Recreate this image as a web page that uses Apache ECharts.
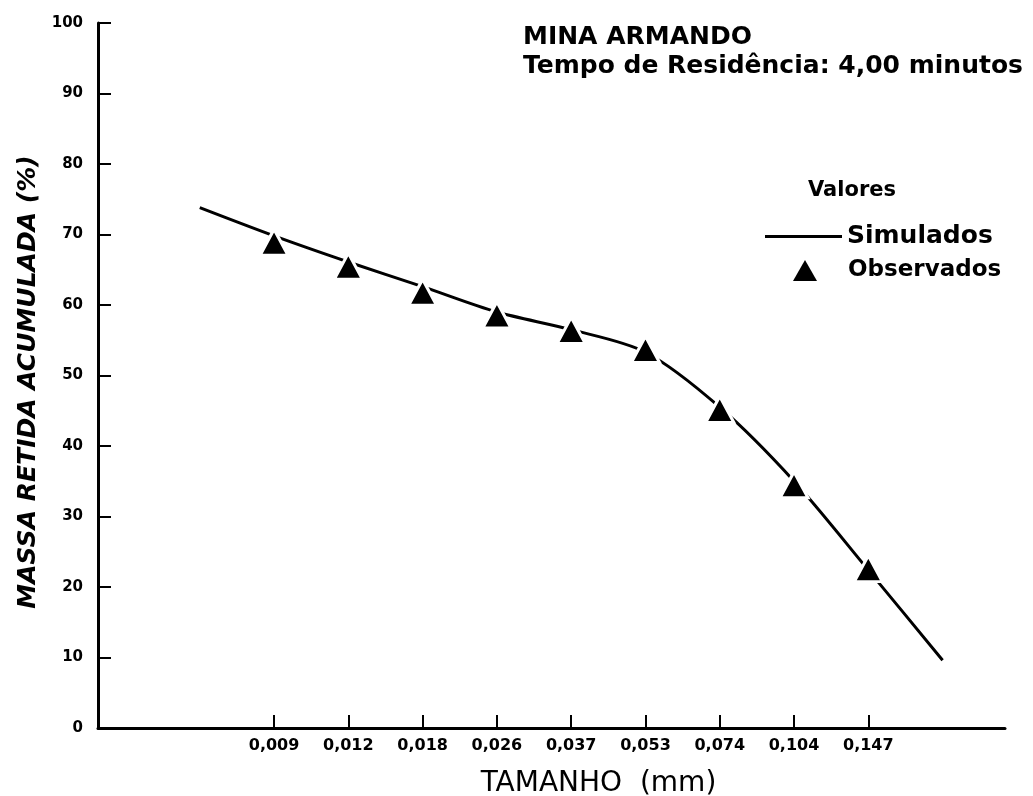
<!DOCTYPE html>
<html>
<head>
<meta charset="utf-8">
<script src="https://cdn.jsdelivr.net/npm/echarts@6/dist/echarts.min.js"></script>
<style>
html,body{margin:0;padding:0;background:#fff;}
#chart{width:1033px;height:796px;}
</style>
</head>
<body>
<div id="chart"></div>
<script>
// Sieve sizes (mm) shown as tick labels, evenly spaced positions 1..9
const sizeLabels = ['0,009','0,012','0,018','0,026','0,037','0,053','0,074','0,104','0,147'];
// Observed cumulative retained mass (%) at each sieve size
const observedValues = [68.9, 65.5, 61.8, 58.6, 56.4, 53.7, 45.2, 34.5, 22.6];
// Simulated curve: one point before the first sieve, the nine sieves, one after the last
const simulatedValues = [73.8, 69.8, 66.1, 62.6, 59.0, 56.5, 53.3, 45.5, 35.0, 22.4, 9.6];
const yTicks = [0,10,20,30,40,50,60,70,80,90,100];

const FONT = 'DejaVu Sans';
const tickPositions = sizeLabels.map((_, i) => i + 1);
const simData = simulatedValues.map((v, i) => [i, v]);
const obsData = observedValues.map((v, i) => [i + 1, v]);

const chart = echarts.init(document.getElementById('chart'), null, {renderer: 'canvas'});
chart.setOption({
  backgroundColor: '#fff',
  animation: false,
  grid: {left: 98, right: 28, top: 23, bottom: 68, containLabel: false, outerBoundsMode: 'none'},
  xAxis: {
    type: 'value',
    min: -1.37, max: 10.84,
    name: 'TAMANHO  (mm)',
    nameLocation: 'middle',
    nameGap: 42,
    nameTextStyle: {fontFamily: FONT, fontSize: 28, color: '#000', padding: [0, 0, 0, 94]},
    axisLine: {show: true, onZero: false, lineStyle: {color: '#000', width: 3}},
    axisTick: {show: true, inside: true, length: 13, lineStyle: {color: '#000', width: 2}, customValues: tickPositions},
    axisLabel: {
      show: true, margin: 10, color: '#000', fontFamily: FONT, fontSize: 16, fontWeight: 'bold',
      customValues: tickPositions,
      formatter: v => sizeLabels[Math.round(v) - 1] || ''
    },
    splitLine: {show: false}
  },
  yAxis: {
    type: 'value',
    min: 0, max: 100, interval: 10,
    name: 'MASSA RETIDA ACUMULADA (%)',
    nameLocation: 'middle',
    nameGap: 54,
    nameTextStyle: {fontFamily: FONT, fontSize: 25, fontWeight: 'bold', fontStyle: 'italic', color: '#000', padding: [0, 13, 0, 0]},
    axisLine: {show: true, onZero: false, lineStyle: {color: '#000', width: 3}},
    axisTick: {show: true, inside: true, length: 13, lineStyle: {color: '#000', width: 2}},
    axisLabel: {margin: 15, color: '#000', fontFamily: FONT, fontSize: 15, fontWeight: 'bold',
      customValues: yTicks},
    splitLine: {show: false}
  },
  legend: [
    {
      data: [{name: 'Simulados', icon: 'rect'}], left: 765, top: 224, padding: 0, itemWidth: 77, itemHeight: 3, itemGap: 0,
      textStyle: {fontFamily: FONT, fontSize: 25, fontWeight: 'bold', color: '#000'},
      selectedMode: false
    },
    {
      data: [{name: 'Observados', icon: 'triangle', itemStyle: {borderWidth: 0}}], left: 793, top: 259, padding: 0, itemWidth: 24, itemHeight: 21, itemGap: 0,
      itemStyle: {borderWidth: 0},
      textStyle: {fontFamily: FONT, fontSize: 23, fontWeight: 'bold', color: '#000', padding: [0, 0, 0, 26]},
      selectedMode: false
    }
  ],
  graphic: [
    {type: 'text', left: 523, top: 25, style: {text: 'MINA ARMANDO', fontFamily: FONT, fontSize: 25, fontWeight: 'bold', fill: '#000'}},
    {type: 'text', left: 523, top: 54, style: {text: 'Tempo de Residência: 4,00 minutos', fontFamily: FONT, fontSize: 25, fontWeight: 'bold', fill: '#000'}},
    {type: 'text', left: 808, top: 180, style: {text: 'Valores', fontFamily: FONT, fontSize: 21, fontWeight: 'bold', fill: '#000'}}
  ],
  series: [
    {
      name: 'Simulados', type: 'line', data: simData, smooth: 0.3,
      symbol: 'none', lineStyle: {color: '#000', width: 3}, itemStyle: {color: '#000'}, z: 2
    },
    {
      name: 'Observados', type: 'scatter', data: obsData, symbol: 'triangle', symbolSize: [28, 26],
      itemStyle: {color: '#000', borderColor: '#fff', borderWidth: 3, opacity: 1}, z: 3
    }
  ]
});
</script>
</body>
</html>
